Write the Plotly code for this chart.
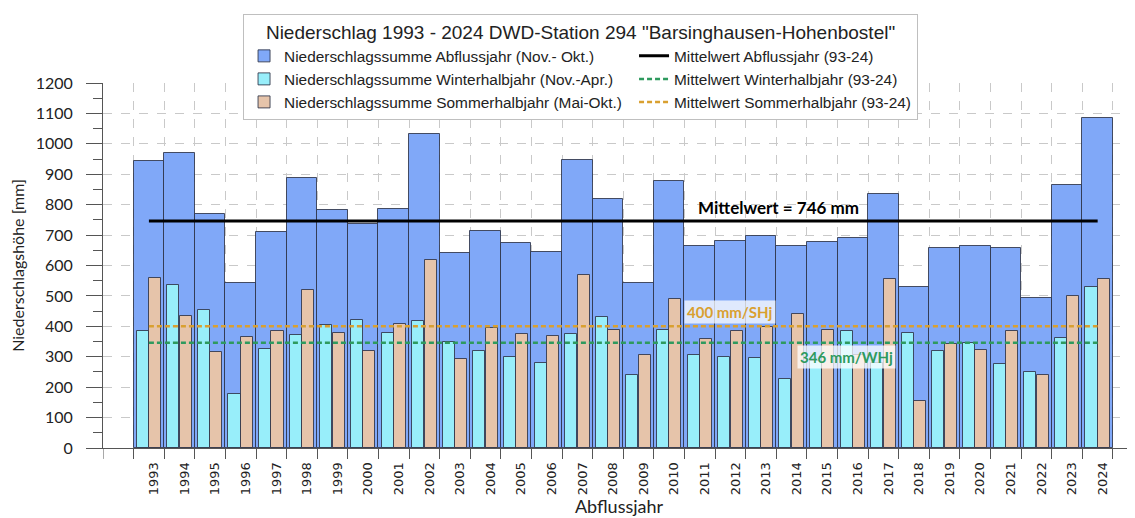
import plotly.graph_objects as go

# ---------------- data ----------------
years = [str(y) for y in range(1993, 2025)]
abfluss = [942, 970, 768, 544, 711, 889, 781, 736, 786, 1033, 641, 712, 674, 644, 946, 818,
           544, 877, 663, 680, 697, 665, 676, 690, 834, 530, 658, 663, 657, 492, 864, 1085]
winter = [385, 537, 453, 177, 326, 371, 404, 420, 379, 416, 350, 319, 300, 278, 376, 430,
          239, 389, 305, 298, 297, 227, 287, 384, 278, 379, 318, 344, 276, 251, 363, 530]
sommer = [558, 433, 316, 366, 386, 519, 377, 320, 407, 617, 294, 396, 376, 367, 570, 389,
          305, 489, 360, 384, 399, 440, 389, 306, 556, 154, 341, 322, 385, 240, 501, 556]
mean_abfluss = 746
mean_winter = 346
mean_sommer = 400

title_text = 'Niederschlag 1993 - 2024 DWD-Station 294 "Barsinghausen-Hohenbostel"'

# ---------------- styles ----------------
C_BLUE = "#80a8f8"
C_CYAN = "#98eefa"
C_PEACH = "#e6c4aa"
C_GREEN = "#2e9a5e"
C_ORANGE = "#d9a030"
EDGE = "rgba(45,50,70,0.85)"
GRID = "#c9c9c9"
CAL = "Lato, 'Open Sans', sans-serif"
ARIAL = "'Liberation Sans', Arial, sans-serif"
NARROW = "'Liberation Sans Narrow', 'Arial Narrow', Lato, sans-serif"
COL1_W = 345   # legend entry width, left column
COL2_W = 238   # legend entry width, right column

fig = go.Figure()

fig.add_trace(go.Bar(
    x=years, y=abfluss, name="Niederschlagssumme Abflussjahr (Nov.- Okt.)",
    width=1.0, offset=-0.5, marker=dict(color=C_BLUE, line=dict(color=EDGE, width=1)),
    legendrank=1, legendwidth=COL1_W))
fig.add_trace(go.Bar(
    x=years, y=winter, name="Niederschlagssumme Winterhalbjahr (Nov.-Apr.)",
    width=0.395, offset=-0.4, marker=dict(color=C_CYAN, line=dict(color=EDGE, width=1)),
    legendrank=3, legendwidth=COL1_W))
fig.add_trace(go.Bar(
    x=years, y=sommer, name="Niederschlagssumme Sommerhalbjahr (Mai-Okt.)",
    width=0.395, offset=0.005, marker=dict(color=C_PEACH, line=dict(color=EDGE, width=1)),
    legendrank=5, legendwidth=COL1_W))

fig.add_trace(go.Scatter(
    x=[years[0], years[-1]], y=[mean_abfluss, mean_abfluss], mode="lines",
    name="Mittelwert Abflussjahr (93-24)", line=dict(color="black", width=3),
    legendrank=2, legendwidth=COL2_W))
fig.add_trace(go.Scatter(
    x=[years[0], years[-1]], y=[mean_winter, mean_winter], mode="lines",
    name="Mittelwert Winterhalbjahr (93-24)",
    line=dict(color=C_GREEN, width=2.5, dash="5px,3px"), legendrank=4, legendwidth=COL2_W))
fig.add_trace(go.Scatter(
    x=[years[0], years[-1]], y=[mean_sommer, mean_sommer], mode="lines",
    name="Mittelwert Sommerhalbjahr (93-24)",
    line=dict(color=C_ORANGE, width=2.5, dash="5px,3px"), legendrank=6, legendwidth=COL2_W))

x_lo = -1.5
fig.add_shape(type="line", xref="x", yref="paper", x0=x_lo, x1=x_lo, y0=-0.03, y1=0,
              line=dict(color="#555", width=1))

fig.add_annotation(x=20.56, y=mean_abfluss, yshift=14, text=f"<b>Mittelwert = {mean_abfluss} mm</b>",
                   showarrow=False, font=dict(family=CAL, size=17, color="black"))
fig.add_annotation(x=18.99, y=mean_sommer, yshift=14, text=f"<b>{mean_sommer} mm/SHj</b>",
                   showarrow=False, font=dict(family=CAL, size=15, color=C_ORANGE),
                   bgcolor="rgba(255,255,255,0.75)", borderpad=2)
fig.add_annotation(x=22.78, y=mean_winter, yshift=-14, text=f"<b>{mean_winter} mm/WHj</b>",
                   showarrow=False, font=dict(family=CAL, size=15, color=C_GREEN),
                   bgcolor="rgba(255,255,255,0.75)", borderpad=2)

fig.update_layout(
    width=1127, height=510,
    margin=dict(l=95, r=0, t=75, b=70),
    paper_bgcolor="white", plot_bgcolor="white",
    barmode="overlay", bargap=0,
    font=dict(family=ARIAL, size=14, color="#222"),
    showlegend=True,
    legend=dict(
        orientation="h", x=0.1357, y=1.19, xanchor="left", yanchor="top",
        bgcolor="white", bordercolor="#bfbfbf", borderwidth=1,
        font=dict(family=ARIAL, size=15.4, color="#222"),
        itemwidth=30,
        title=dict(text=title_text, side="top center",
                   font=dict(family=ARIAL, size=19, color="#222")),
    ),
    xaxis=dict(
        type="category", range=[x_lo, 32.22], tickson="boundaries",
        ticks="outside", ticklen=10, tickcolor="#555",
        showgrid=True, gridcolor=GRID, griddash="dash", gridwidth=1,
        showline=True, linecolor="#555", linewidth=1,
        tickangle=-90, tickfont=dict(family="DejaVu Sans", size=13, color="#222"),
        ticklabelstandoff=8, ticklabelshift=5,
        title=dict(text="Abflussjahr", font=dict(family=NARROW, size=18, color="#222"), standoff=6),
        fixedrange=True,
    ),
    yaxis=dict(
        range=[0, 1200], dtick=100, tick0=0,
        ticks="outside", ticklen=16, tickcolor="#555",
        minor=dict(dtick=50, ticks="outside", ticklen=9, tickcolor="#555", showgrid=False),
        showgrid=True, gridcolor=GRID, griddash="dash", gridwidth=1,
        showline=True, linecolor="#555", linewidth=1, zeroline=False,
        tickfont=dict(family=CAL, size=16, color="#222"), ticklabelstandoff=10,
        title=dict(text="Niederschlagshöhe [mm]", font=dict(family=CAL, size=16, color="#222"),
                   standoff=9),
    ),
)

fig.write_html("out.html")
